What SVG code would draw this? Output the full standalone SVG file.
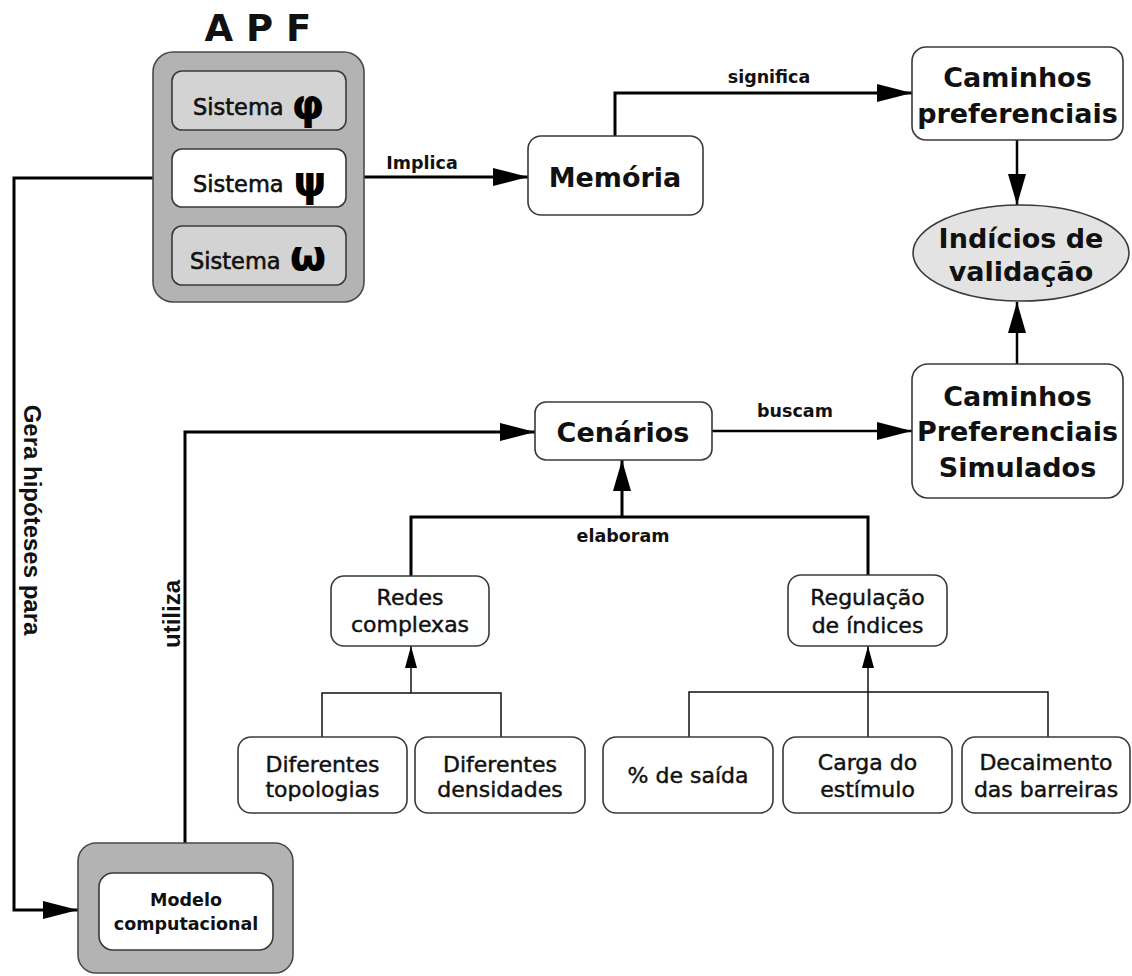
<svg xmlns="http://www.w3.org/2000/svg" width="1132" height="976" viewBox="0 0 1132 976">
<defs>
<style>
.box{fill:#ffffff;stroke:#3a3a3a;stroke-width:1.6}
.gray{fill:#b3b3b3;stroke:#4a4a4a;stroke-width:1.6}
.lgray{fill:#d3d3d3;stroke:#3a3a3a;stroke-width:1.6}
.ell{fill:#e3e3e3;stroke:#3a3a3a;stroke-width:1.6}
.big{font-family:"DejaVu Sans",sans-serif;font-weight:bold;font-size:27px;fill:#111;text-anchor:middle}
.mid{font-family:"DejaVu Sans",sans-serif;font-size:22px;fill:#111;stroke:#111;stroke-width:0.45;text-anchor:middle}
.lab{font-family:"DejaVu Sans",sans-serif;font-weight:bold;font-size:17.5px;fill:#111;text-anchor:middle}
.sis{font-family:"DejaVu Sans",sans-serif;font-size:22.5px;fill:#111;stroke:#111;stroke-width:0.6}
.grk{font-family:"DejaVu Sans",sans-serif;font-weight:bold;fill:#000;text-anchor:middle}
.rot{font-family:"Liberation Sans",Arial,sans-serif;font-weight:bold;font-size:24px;fill:#111;text-anchor:middle}
.thick{fill:none;stroke:#000;stroke-width:3}
.med{fill:none;stroke:#000;stroke-width:2.5}
.thin{fill:none;stroke:#111;stroke-width:1.5}
</style>
<marker id="aL" markerUnits="userSpaceOnUse" markerWidth="36" markerHeight="18" refX="35" refY="9" orient="auto"><path d="M0,0 L35,9 L0,18 z" fill="#000"/></marker>
<marker id="aM" markerUnits="userSpaceOnUse" markerWidth="32" markerHeight="18" refX="31" refY="9" orient="auto"><path d="M0,0 L31,9 L0,18 z" fill="#000"/></marker>
<marker id="aS" markerUnits="userSpaceOnUse" markerWidth="23" markerHeight="12" refX="22" refY="6" orient="auto"><path d="M0,0 L22,6 L0,12 z" fill="#000"/></marker>
</defs>
<rect width="1132" height="976" fill="#ffffff"/>

<g id="connectors">
<path class="thick" d="M153,178 H14 V910 H78" marker-end="url(#aL)"/>
<path class="thick" d="M364,177 H528" marker-end="url(#aL)"/>
<path class="thick" d="M615,136 V93 H912" marker-end="url(#aL)"/>
<path class="med" d="M1017,140 V205" marker-end="url(#aM)"/>
<path class="med" d="M1017,364 V302" marker-end="url(#aM)"/>
<path class="thick" d="M185,843 V432 H535" marker-end="url(#aL)"/>
<path class="med" d="M712,431 H912" marker-end="url(#aL)"/>
<path class="thick" d="M411,576 V517 H868 V575"/>
<path class="thick" d="M622,517 V460" marker-end="url(#aM)"/>
<path class="thin" d="M322,737 V693 H501 V737"/>
<path class="thin" d="M411,693 V646" marker-end="url(#aS)"/>
<path class="thin" d="M689,737 V692 H1048 V737"/>
<path class="thin" d="M868,737 V646" marker-end="url(#aS)"/>
<text class="lab" x="422" y="169">Implica</text>
<text class="lab" x="769" y="83">significa</text>
<text class="lab" x="795" y="417">buscam</text>
<text class="lab" x="623" y="542">elaboram</text>
<text class="rot" transform="translate(32,520) rotate(90)" dominant-baseline="central">Gera hipóteses para</text>
<text class="rot" transform="translate(171,614) rotate(-90)" dominant-baseline="central">utiliza</text>
</g>

<g id="apf">
<text x="258" y="41" font-family="DejaVu Sans,sans-serif" font-weight="bold" font-size="37" text-anchor="middle" fill="#111">A P F</text>
<rect class="gray" x="153" y="52" width="211" height="250" rx="20"/>
<g id="sistema-phi">
<rect class="lgray" x="172" y="71" width="174" height="59" rx="10"/>
<text class="sis" x="193" y="115">Sistema</text>
<text class="grk" x="308" y="119" font-size="42">φ</text>
</g>
<g id="sistema-psi">
<rect class="box" x="172" y="149" width="174" height="58" rx="10"/>
<text class="sis" x="193" y="192">Sistema</text>
<text class="grk" x="310" y="196" font-size="42">ψ</text>
</g>
<g id="sistema-omega">
<rect class="lgray" x="172" y="226" width="174" height="59" rx="10"/>
<text class="sis" x="190" y="269">Sistema</text>
<text class="grk" x="308" y="270" font-size="42">ω</text>
</g>
</g>

<g id="memoria">
<rect class="box" x="528" y="136" width="175" height="79" rx="13"/>
<text class="big" x="615" y="187">Memória</text>
</g>

<g id="caminhos-preferenciais">
<rect class="box" x="912" y="47" width="211" height="93" rx="14"/>
<text class="big" x="1017.5" y="87">Caminhos</text>
<text class="big" x="1017.5" y="123">preferenciais</text>
</g>

<g id="indicios">
<ellipse class="ell" cx="1021" cy="253" rx="108" ry="48"/>
<text class="big" x="1021" y="248">Indícios de</text>
<text class="big" x="1021" y="281">validação</text>
</g>

<g id="caminhos-simulados">
<rect class="box" x="912" y="364" width="211" height="134" rx="16"/>
<text class="big" x="1017.5" y="406">Caminhos</text>
<text class="big" x="1017.5" y="441">Preferenciais</text>
<text class="big" x="1017.5" y="477">Simulados</text>
</g>

<g id="cenarios">
<rect class="box" x="535" y="402" width="177" height="58" rx="11"/>
<text class="big" x="623" y="442">Cenários</text>
</g>

<g id="redes">
<rect class="box" x="331" y="576" width="158" height="70" rx="13"/>
<text class="mid" x="410" y="605">Redes</text>
<text class="mid" x="410" y="632">complexas</text>
</g>

<g id="regulacao">
<rect class="box" x="788" y="575" width="159" height="71" rx="13"/>
<text class="mid" x="867.5" y="605">Regulação</text>
<text class="mid" x="867.5" y="633">de índices</text>
</g>

<g id="topologias">
<rect class="box" x="238" y="737" width="169" height="76" rx="13"/>
<text class="mid" x="322.5" y="772">Diferentes</text>
<text class="mid" x="322.5" y="797">topologias</text>
</g>

<g id="densidades">
<rect class="box" x="415" y="737" width="170" height="76" rx="13"/>
<text class="mid" x="500" y="772">Diferentes</text>
<text class="mid" x="500" y="797">densidades</text>
</g>

<g id="saida">
<rect class="box" x="603" y="737" width="170" height="76" rx="13"/>
<text class="mid" x="688" y="783">% de saída</text>
</g>

<g id="carga">
<rect class="box" x="783" y="737" width="169" height="76" rx="13"/>
<text class="mid" x="867.5" y="770">Carga do</text>
<text class="mid" x="867.5" y="797">estímulo</text>
</g>

<g id="decaimento">
<rect class="box" x="962" y="737" width="168" height="76" rx="13"/>
<text class="mid" x="1046" y="770">Decaimento</text>
<text class="mid" x="1046" y="797">das barreiras</text>
</g>

<g id="modelo">
<rect class="gray" x="78" y="843" width="215" height="130" rx="18"/>
<rect class="box" x="99" y="873" width="174" height="77" rx="14"/>
<text class="lab" x="186" y="906" font-size="18">Modelo</text>
<text class="lab" x="186" y="930" font-size="18">computacional</text>
</g>
</svg>
